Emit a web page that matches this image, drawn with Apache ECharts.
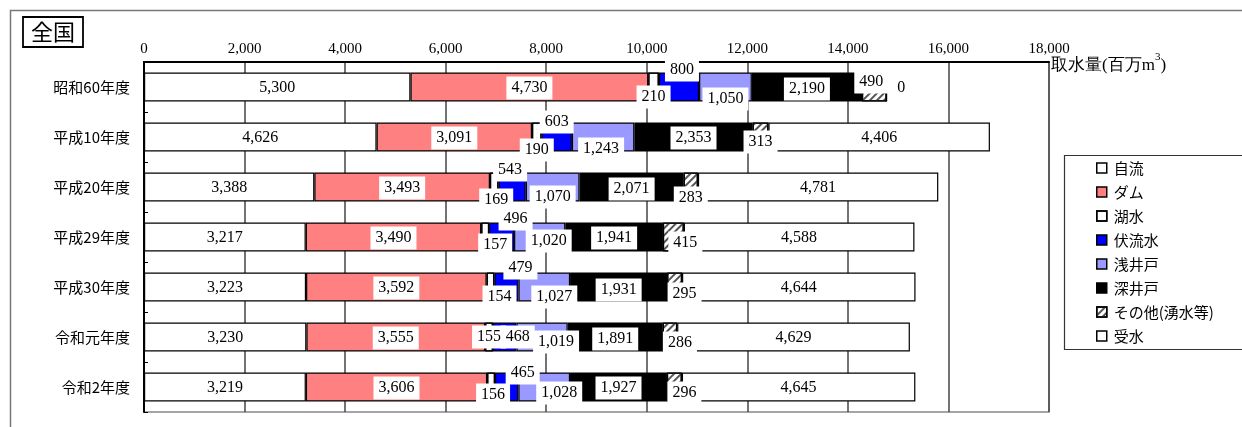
<!DOCTYPE html>
<html>
<head>
<meta charset="utf-8">
<script src="https://cdn.jsdelivr.net/npm/echarts@6/dist/echarts.min.js"></script>
<style>
html,body{margin:0;padding:0;background:#fff;}
#c{width:1242px;height:427px;}
</style>
</head>
<body>
<div id="c"></div>
<script>
// ---- data ----
const categories = ['昭和60年度','平成10年度','平成20年度','平成29年度','平成30年度','令和元年度','令和2年度'];
const seriesNames = ['自流','ダム','湖水','伏流水','浅井戸','深井戸','その他(湧水等)','受水'];
const jiryu   = [5300,4626,3388,3217,3223,3230,3219];
const dam     = [4730,3091,3493,3490,3592,3555,3606];
const kosui   = [210,190,169,157,154,155,156];
const fukuryu = [800,603,543,496,479,468,465];
const asaido  = [1050,1243,1070,1020,1027,1019,1028];
const fukaido = [2190,2353,2071,1941,1931,1891,1927];
const sonota  = [490,313,283,415,295,286,296];
const jusui   = [0,4406,4781,4588,4644,4629,4645];
const xTickLabels = ['0','2,000','4,000','6,000','8,000','10,000','12,000','14,000','16,000','18,000'];
const axisTitle = '取水量(百万m';
const chartTitle = '全国';

// ---- styling (label offsets per series per row) ----
const labelOffsets = [
  [[0,1],[0,1],[0,1],[0,1],[0,1],[0,1],[0,1]],
  [[0,1],[0,1],[0,1],[0,1],[0,1],[0,1],[0,1]],
  [[0,10],[0,13],[2,13],[10,8],[9,10],[0,0],[2,8]],
  [[3,-17],[0,-15],[-2,-17],[14,-18],[14,-19],[13,0],[16,-14]],
  [[0,12],[-2,12],[0,10],[9,4],[10,10],[14,5],[15,6]],
  [[0,2],[0,1],[0,2],[0,1],[0,3],[0,2],[0,1]],
  [[-3,-5],[0,5],[0,11],[12,6],[10,7],[10,6],[10,6]],
  [[0,1],[0,1],[0,1],[0,1],[0,1],[0,1],[0,1]]
];
const seriesValues = [jiryu,dam,kosui,fukuryu,asaido,fukaido,sonota,jusui];
const colors = ['#ffffff','#ff8080','#ffffff','#0000ff','#9999ff','#000000','#ffffff','#ffffff'];
const decals = [
  null, null,
  {symbol:'circle', symbolSize:0.35, color:'#777', dashArrayX:[2,2], dashArrayY:[2,2]},
  null, null, null,
  {symbol:'rect', symbolSize:1, color:'#555', dashArrayX:[1,0], dashArrayY:[2,3], rotation:-Math.PI/4},
  null
];
const serifFont = '"Liberation Serif","DejaVu Serif",serif';
const jpFont = '"Noto Sans CJK JP","Noto Sans",sans-serif';

const series = seriesNames.map((name, si) => {
  const itemStyle = {color: colors[si], borderColor:'#000', borderWidth:1.2};
  if (decals[si]) itemStyle.decal = decals[si];
  return {
    name: name,
    type: 'bar',
    stack: 'total',
    barWidth: '58%',
    itemStyle: itemStyle,
    label: {
      show: true,
      position: 'inside',
      formatter: p => p.value.toLocaleString('en-US'),
      color: '#000',
      fontFamily: serifFont,
      fontSize: 16,
      backgroundColor: '#fff',
      padding: [4,5,3,5]
    },
    data: seriesValues[si].map((v, ri) => {
      const lbl = {offset: labelOffsets[si][ri]};
      if (v === 0) { lbl.position = 'right'; lbl.distance = 5; lbl.offset = [0,1]; lbl.backgroundColor = 'transparent'; }
      return {value: v, label: lbl};
    })
  };
});

const chart = echarts.init(document.getElementById('c'));
chart.setOption({
  animation: false,
  backgroundColor: '#fff',
  title: {
    text: chartTitle,
    left: 23, top: 17,
    padding: [1,8,1,8],
    borderColor: '#000', borderWidth: 1.8,
    textStyle: {fontFamily: jpFont, fontSize: 22, fontWeight: 'normal', color:'#000', lineHeight: 28}
  },
  legend: {
    orient: 'vertical',
    left: 1096, top: 160,
    padding: 0,
    itemWidth: 10, itemHeight: 10,
    itemGap: 8,
    icon: 'rect',
    itemStyle: {borderColor:'#000', borderWidth:1.5},
    textStyle: {fontFamily: jpFont, fontSize: 15, color:'#000', lineHeight: 16, padding:[0,0,0,2]},
    data: seriesNames
  },
  grid: {
    left: 144, top: 62, width: 905, height: 350,
    show: true, borderColor: '#888', borderWidth: 1.5, backgroundColor: 'transparent'
  },
  xAxis: {
    type: 'value',
    position: 'top',
    min: 0, max: 18000, interval: 2000,
    name: '{a|' + axisTitle + '}{s|3}{a|)}',
    nameLocation: 'end',
    nameGap: 2,
    nameMoveOverlap: false,
    nameTextStyle: {
      rich: {
        a: {fontFamily: serifFont, fontSize: 17, color:'#000', padding:[8,0,0,0]},
        s: {fontFamily: serifFont, fontSize: 11, color:'#000', padding:[0,0,10,0]}
      }
    },
    axisLine: {show: true, lineStyle: {color:'#000', width: 2}},
    axisTick: {show: false},
    axisLabel: {
      margin: 5,
      fontFamily: serifFont, fontSize: 15, color:'#000',
      formatter: (v) => xTickLabels[Math.round(v/2000)]
    },
    splitLine: {show: true, lineStyle: {color:'#444', width: 1.5}}
  },
  yAxis: {
    type: 'category',
    inverse: true,
    data: categories,
    axisLine: {show: true, lineStyle: {color:'#000', width: 2}},
    axisTick: {show: true, inside: true, length: 4, lineStyle:{color:'#000', width:1}},
    axisLabel: {margin: 14, fontFamily: jpFont, fontSize: 15, color:'#000'}
  },
  graphic: [
    {type:'rect', silent:true, z:-1, shape:{x:10.5, y:10.5, width:1260, height:440}, style:{fill:'none', stroke:'#777', lineWidth:1.5}},
    {type:'rect', silent:true, z:-1, shape:{x:1064.5, y:155.5, width:200, height:194}, style:{fill:'none', stroke:'#333', lineWidth:1.2}}
  ],
  series: series
});
</script>
</body>
</html>
